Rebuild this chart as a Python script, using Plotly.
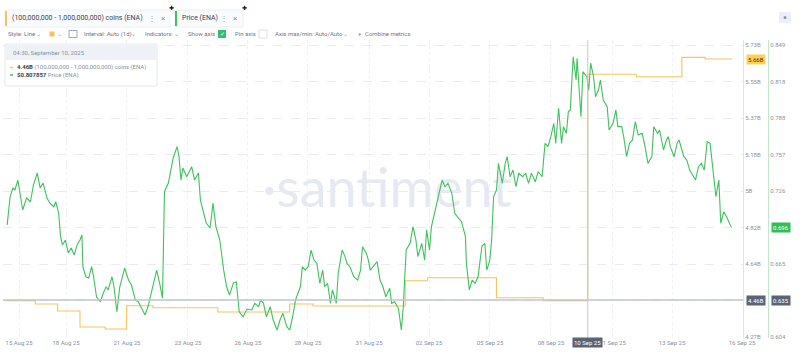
import pandas as pd
import plotly.graph_objects as go

BASE = pd.Timestamp("2025-08-15 00:00")

# ---------------- data ----------------
price_hours = [21, 24, 27, 29, 32, 34, 37, 41, 45, 48,
               52, 55, 58, 62, 65, 69, 71, 74, 76, 78,
               81, 84, 87, 90, 93, 96, 98, 99, 102, 105,
               108, 110, 113, 117, 120, 123, 125, 129, 131, 134,
               137, 142, 146, 149, 153, 156, 160, 163, 166, 170,
               173, 175, 178, 181, 183, 187, 189, 192, 196, 198,
               200, 202, 206, 211, 214, 218, 220, 223, 226, 230,
               233, 236, 240, 244, 247, 250, 254, 257, 260, 264,
               268, 273, 276, 280, 282, 285, 288, 292, 295, 299,
               302, 305, 309, 312, 315, 318, 323, 325, 328, 331,
               334, 337, 340, 343, 346, 348, 351, 354, 356, 360,
               362, 366, 369, 371, 374, 378, 382, 385, 387, 391,
               393, 395, 398, 402, 405, 408, 411, 415, 417, 420,
               424, 427, 429, 432, 436, 439, 442, 444, 448, 451,
               453, 456, 458, 462, 465, 469, 472, 475, 479, 482,
               486, 489, 493, 494, 497, 500, 503, 506,
               510, 513, 515, 518, 520, 522, 525, 527, 529, 531, 534, 536,
               539, 542, 545, 548, 552, 555, 558, 561, 565, 568,
               572, 575, 578, 581, 584, 586, 589, 592, 594, 597,
               599, 601, 604, 607, 608, 610, 612, 614, 618, 620,
               622, 625, 627, 630, 632, 635, 639, 641, 645, 648,
               650, 654, 656, 659, 662, 665, 668, 671, 675, 678,
               681, 685, 687, 691, 693, 697, 700, 702, 704, 708,
               711, 713, 716, 718, 721, 724, 728, 730, 733, 736,
               739, 742, 745, 748, 751, 754, 756, 759, 762, 765, 767]

price_usd = [0.6980, 0.7217, 0.7290, 0.7274, 0.7357, 0.7248, 0.7106, 0.7206, 0.7175, 0.7315,
             0.7416, 0.7290, 0.7332, 0.7206, 0.7164, 0.7133, 0.7175, 0.7081, 0.6882, 0.6812,
             0.6854, 0.6745, 0.6787, 0.6728, 0.6812, 0.6854, 0.6896, 0.6630, 0.6546, 0.6535,
             0.6630, 0.6546, 0.6378, 0.6336, 0.6409, 0.6462, 0.6435, 0.6546, 0.6462, 0.6252,
             0.6462, 0.6619, 0.6518, 0.6476, 0.6351, 0.6336, 0.6267, 0.6225, 0.6294, 0.6435,
             0.6535, 0.6602, 0.6493, 0.6367, 0.7259, 0.7332, 0.7416, 0.7542, 0.7637, 0.7553,
             0.7357, 0.7458, 0.7385, 0.7469, 0.7357, 0.7416, 0.7190, 0.7081, 0.6997, 0.6955,
             0.7164, 0.6966, 0.6854, 0.6602, 0.6462, 0.6393, 0.6493, 0.6504, 0.6252, 0.6210,
             0.6275, 0.6267, 0.6323, 0.6294, 0.6351, 0.6323, 0.6210, 0.6294, 0.6183, 0.6099,
             0.6183, 0.6239, 0.6127, 0.6099, 0.6210, 0.6351, 0.6462, 0.6630, 0.6602, 0.6630,
             0.6770, 0.6686, 0.6658, 0.6491, 0.6602, 0.6462, 0.6491, 0.6323, 0.6435, 0.6323,
             0.6575, 0.6770, 0.6714, 0.6658, 0.6630, 0.6546, 0.6518, 0.6602, 0.6798, 0.6742,
             0.6686, 0.6602, 0.6630, 0.6672, 0.6518, 0.6462, 0.6378, 0.6449, 0.6323, 0.6336,
             0.6281, 0.6099, 0.6294, 0.6770, 0.6826, 0.6966, 0.6854, 0.6714, 0.6826, 0.6686,
             0.6938, 0.6770, 0.6966, 0.7106, 0.7217, 0.7357, 0.7301, 0.7330, 0.7246, 0.7078,
             0.7036, 0.7008, 0.6882, 0.6658, 0.6435, 0.6518, 0.6491, 0.6546,
             0.6804, 0.6826, 0.6602, 0.6678, 0.6854, 0.7217, 0.7274, 0.7497, 0.7414, 0.7330, 0.7497, 0.7553,
             0.7385, 0.7441, 0.7301, 0.7414, 0.7385, 0.7414, 0.7330, 0.7414, 0.7343, 0.7427,
             0.7385, 0.7665, 0.7637, 0.7721, 0.7833, 0.7665, 0.7959, 0.7665, 0.7805, 0.7749,
             0.7930, 0.7945, 0.8392, 0.8196, 0.8378, 0.8140, 0.7888, 0.8266, 0.8224, 0.8112,
             0.8337, 0.8224, 0.8056, 0.8112, 0.8196, 0.8029, 0.7972, 0.7777, 0.7833, 0.7945,
             0.7805, 0.7805, 0.7721, 0.7553, 0.7665, 0.7693, 0.7847, 0.7735, 0.7749, 0.7637,
             0.7497, 0.7553, 0.7805, 0.7749, 0.7777, 0.7609, 0.7693, 0.7721, 0.7637, 0.7553,
             0.7665, 0.7693, 0.7609, 0.7553, 0.7525, 0.7441, 0.7385, 0.7357, 0.7469, 0.7497,
             0.7441, 0.7679, 0.7665, 0.7414, 0.7217, 0.7357, 0.6994, 0.7091, 0.7049, 0.6994, 0.6960]

coin_hours = [19, 50, 73, 96, 122, 144, 171, 238, 312, 336,
              431, 454, 525, 573, 619, 669, 716, 740, 768]
coin_billions = [4.452, 4.435, 4.400, 4.320, 4.310, 4.426, 4.416, 4.395, 4.435, 4.425,
                 4.551, 4.566, 4.466, 4.452, 5.584, 5.571, 5.668, 5.660, 5.660]

x_tick_hours = [33.2, 81.6, 144.4, 207.2, 269.0, 330.8, 393.7, 455.5, 518.3, 581.1, 644.5, 705.8, 777.9]
x_tick_labels = ["15 Aug 25", "18 Aug 25", "21 Aug 25", "23 Aug 25", "26 Aug 25", "28 Aug 25",
                 "31 Aug 25", "02 Sep 25", "05 Sep 25", "08 Sep 25", "11 Sep 25", "13 Sep 25", "16 Sep 25"]
x_range_hours = [16.7, 778.9]

# labels hidden behind the value boxes in the reference are left blank
coin_tick_vals = [4.27, 4.4525, 4.635, 4.8175, 5.0, 5.1825, 5.365, 5.5475, 5.73]
coin_tick_labels = ["4.27B", "", "4.64B", "4.82B", "5B", "5.18B", "5.37B", "5.55B", "5.73B"]
coin_range = [4.265, 5.755]

price_tick_vals = [0.604, 0.634625, 0.66525, 0.695875, 0.7265, 0.757125, 0.78775, 0.818375, 0.849]
price_tick_labels = ["0.604", "", "0.665", "", "0.726", "0.757", "0.788", "0.818", "0.849"]
price_range = [0.6032, 0.8532]

cross_hour = 619
cross_coin = 4.455
cross_time_label = "04:30, September 10, 2025"
cross_date_label = "10 Sep 25"
cross_coin_text = "4.46B"
cross_price_text = "$0.807857"
cross_coin_axis = "4.46B"
cross_price_axis = "0.635"

coin_name = "(100,000,000 - 1,000,000,000) coins (ENA)"
price_name = "Price (ENA)"

assert len(price_hours) == len(price_usd)


def t(h):
    return BASE + pd.to_timedelta(h, unit="h")


# ---------------- geometry helpers (layout only) ----------------
W, H = 800, 356
ML, MR, MT, MB = 3, 32, 40, 18
PW, PH = W - ML - MR, H - MT - MB
XDOM = 740 / PW


def fx(xpx):
    return (xpx - ML) / PW


def fy(ypx):
    return (H - MB - ypx) / PH


YELLOW = "#f5c45e"
GREEN = "#3cc35a"
GRAYTXT = "#8a91a1"
DARKTXT = "#3a4050"
FONT = "Roboto, Liberation Sans, sans-serif"

fig = go.Figure()
fig.add_trace(go.Scatter(
    x=[t(h) for h in coin_hours], y=coin_billions, yaxis="y", mode="lines",
    line=dict(color=YELLOW, width=1.1, shape="hv"), name=coin_name, hoverinfo="skip"))
fig.add_trace(go.Scatter(
    x=[t(h) for h in price_hours], y=price_usd, yaxis="y2", mode="lines",
    line=dict(color=GREEN, width=1.1), name=price_name, hoverinfo="skip"))

shapes = []
ann = []


def text(xpx, ypx, s, size=6.5, color=GRAYTXT, anchor="left", **kw):
    ann.append(dict(xref="paper", yref="paper", x=fx(xpx), y=fy(ypx), text=s, showarrow=False,
                    xanchor=anchor, yanchor="middle", font=dict(size=size, color=color, family=FONT), **kw))


def rect(x0, y0, x1, y1, fill, line=None, lw=0.8):
    shapes.append(dict(type="rect", xref="paper", yref="paper", x0=fx(x0), x1=fx(x1), y0=fy(y1), y1=fy(y0),
                       fillcolor=fill, line=dict(color=line or fill, width=lw if line else 0)))


# watermark (below traces)
shapes.append(dict(type="rect", xref="paper", yref="paper", x0=fx(262), x1=fx(512), y0=fy(212), y1=fy(158),
                   line=dict(width=0), fillcolor="rgba(0,0,0,0)", layer="below",
                   label=dict(text="·santiment",
                              font=dict(size=54, color="#e6e9f1", family="Lato, Open Sans, sans-serif"),
                              textposition="middle center")))

# crosshair
shapes.append(dict(type="line", xref="paper", yref="y", x0=0, x1=XDOM, y0=cross_coin, y1=cross_coin,
                   line=dict(color="#c0c4cd", width=1.4)))
shapes.append(dict(type="line", xref="x", yref="paper", x0=t(cross_hour), x1=t(cross_hour), y0=0, y1=1,
                   line=dict(color="#c4c8d1", width=1)))

# tooltip
rect(5, 44, 157, 86, "white", "#dfe2e8")
rect(5.5, 44.5, 156.5, 60, "#eef1f6")
text(11, 52.5, cross_time_label, size=6)
shapes.append(dict(type="line", xref="paper", yref="paper", x0=fx(10), x1=fx(13), y0=fy(67.5), y1=fy(67.5),
                   line=dict(color=YELLOW, width=1.5)))
shapes.append(dict(type="line", xref="paper", yref="paper", x0=fx(10), x1=fx(13), y0=fy(75), y1=fy(75),
                   line=dict(color=GREEN, width=1.5)))
text(14.5, 67.5, f"<b>{cross_coin_text}</b> <span style='color:{GRAYTXT}'>{coin_name}</span>",
     size=6, color=DARKTXT)
text(14.5, 75, f"<b>{cross_price_text}</b> <span style='color:{GRAYTXT}'>{price_name}</span>",
     size=6, color=DARKTXT)

# axis value boxes
ann.append(dict(xref="paper", yref="y", x=fx(746), y=coin_billions[-1], text=f"{coin_billions[-1]:.2f}B",
                showarrow=False, xanchor="left", yanchor="middle", bgcolor="#ffd152", borderpad=1,
                font=dict(size=6, color="#3a3520", family=FONT)))
ann.append(dict(xref="paper", yref="y2", x=fx(771), y=price_usd[-1], text=f"{price_usd[-1]:.3f}",
                showarrow=False, xanchor="left", yanchor="middle", bgcolor="#2fbf57", borderpad=1,
                font=dict(size=6, color="white", family=FONT)))
ann.append(dict(xref="paper", yref="y", x=fx(746), y=cross_coin, text=cross_coin_axis,
                showarrow=False, xanchor="left", yanchor="middle", bgcolor="#5b6377", borderpad=1,
                font=dict(size=6, color="white", family=FONT)))
ann.append(dict(xref="paper", yref="y", x=fx(771), y=cross_coin, text=cross_price_axis,
                showarrow=False, xanchor="left", yanchor="middle", bgcolor="#5b6377", borderpad=1,
                font=dict(size=6, color="white", family=FONT)))
ann.append(dict(xref="x", yref="paper", x=t(cross_hour), y=fy(342), text=cross_date_label,
                showarrow=False, xanchor="center", yanchor="middle", bgcolor="#5b6377", borderpad=1,
                font=dict(size=6, color="white", family=FONT)))

# legend chips (top row)
rect(5, 10, 170, 27, "#fafbfc", "#eaecf0")
rect(5, 11, 7, 26, YELLOW)
text(10, 18, coin_name, size=7, color=DARKTXT)
text(152, 18, "⋮", size=8, color="#a0a6b4", anchor="center")
text(163, 18, "×", size=8, color="#8a91a1", anchor="center")
text(171, 8.5, "✚", size=5.5, color="#111", anchor="center")

rect(175, 10, 243, 27, "#fafbfc", "#eaecf0")
rect(175, 11, 177, 26, GREEN)
text(180, 18, price_name, size=7, color=DARKTXT)
text(224, 18, "⋮", size=8, color="#a0a6b4", anchor="center")
text(235, 18, "×", size=8, color="#8a91a1", anchor="center")
text(244, 8.5, "✚", size=5.5, color="#111", anchor="center")

# toolbar row
TB_Y = 34
toolbar = [(6, "Style: Line"), (38, "⌄"), (59, "⌄"), (82, "Interval: Auto (1d)"), (133, "⌄"),
           (143, "Indicators:"), (176, "⌄"), (186, "Show axis"), (233, "Pin axis"),
           (273, "Axis max/min: Auto/Auto"), (345, "⌄"), (356, "+"), (363, "Combine metrics")]
for xx, txt in toolbar:
    if txt == "⌄":
        text(xx, TB_Y - 1, txt, size=6, color="#9aa0ae", anchor="center")
    else:
        text(xx, TB_Y, txt, size=6, color="#6f7687")
rect(49.5, 31.5, 54.5, 36.5, YELLOW)
rect(69, 30.5, 77, 37.5, "white", "#8a91a1")
rect(218, 30, 226, 38, "#2fbf71")
text(222, 34, "✓", size=6, color="white", anchor="center")
rect(259, 30, 267, 38, "white", "#d3d7de")

# top-right settings button
rect(779, 12, 791, 23, "#eceef9")
shapes.append(dict(type="circle", xref="paper", yref="paper", x0=fx(783.5), x1=fx(786.5), y0=fy(19), y1=fy(16),
                   fillcolor="#8b91b5", line=dict(width=0)))

tickfont = dict(size=6, color=GRAYTXT, family=FONT)
fig.update_layout(
    width=W, height=H,
    margin=dict(l=ML, r=MR, t=MT, b=MB, autoexpand=False),
    paper_bgcolor="white", plot_bgcolor="white",
    showlegend=False,
    font=dict(family=FONT),
    xaxis=dict(domain=[0, XDOM], range=[t(x_range_hours[0]), t(x_range_hours[1])],
               tickvals=[t(h) for h in x_tick_hours], ticktext=x_tick_labels, automargin=False,
               showgrid=True, gridcolor="#eef0f4", griddash="dot", gridwidth=1,
               zeroline=False, showline=False, ticks="", tickfont=tickfont),
    yaxis=dict(side="right", anchor="x", range=coin_range, tickvals=coin_tick_vals, ticktext=coin_tick_labels,
               showgrid=True, gridcolor="#e8ebf0", griddash="dash", zeroline=False, automargin=False,
               showline=True, linecolor="#f3e3b6", linewidth=1, ticks="", tickfont=tickfont),
    yaxis2=dict(overlaying="y", side="right", anchor="free", position=1, range=price_range,
                tickvals=price_tick_vals, ticktext=price_tick_labels, showgrid=False, zeroline=False,
                automargin=False,
                showline=True, linecolor="#c2e6ca", linewidth=1, ticks="", tickfont=tickfont),
    shapes=shapes,
    annotations=ann,
)

fig.write_html("out.html", config={"displayModeBar": False},
               post_script="document.body.style.margin='0';document.body.style.overflow='hidden';")
